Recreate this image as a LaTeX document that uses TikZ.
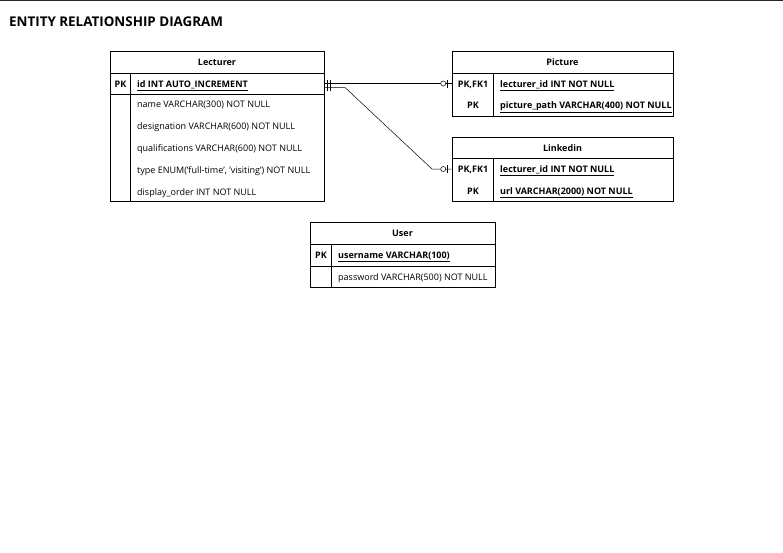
\documentclass[tikz,border=0pt]{standalone}
\usepackage{fontspec}
\setmainfont{Open Sans}
\usetikzlibrary{positioning}

\begin{document}
\begin{tikzpicture}[x=1pt, y=-1pt,
                tablebox/.style={draw, line width=0.6pt, inner sep=0pt},
                tabletitle/.style={tablebox, minimum height=22, text height=8.5pt, text depth=1.5pt, font=\fontsize{9}{10}\selectfont\bfseries},
                keytext/.style={inner sep=0pt, text height=8.5pt, text depth=1.5pt, font=\fontsize{9}{10}\selectfont\bfseries},
                fieldtext/.style={anchor=west, inner sep=0pt, minimum height=21.6, text height=8.5pt, text depth=1.5pt, font=\fontsize{9}{10}\selectfont},
                keyfield/.style={fieldtext, font=\fontsize{9}{10}\selectfont\bfseries},
                link/.style={line width=0.5pt},
            ]
            \useasboundingbox (0,0) rectangle (783,552);
            \draw[line width=2pt, black!85] (0,0) -- (783,0);

            % Title
            \node[anchor=west, inner sep=0pt, font=\fontsize{13.4}{15}\selectfont\bfseries] (diagram_title) at (9,21.5) {ENTITY RELATIONSHIP DIAGRAM};

            % Lecturer
            \node[tabletitle, minimum width=214]                  (lect_head) at (217,62)    {Lecturer};
            \node[tablebox, minimum width=214, minimum height=21] (lect_key)  at (217,83.5)  {};
            \node[tablebox, minimum width=214, minimum height=107] (lect_body) at (217,147.5) {};
            \draw[tablebox] ([xshift=21pt]lect_key.north west) -- ([xshift=21pt]lect_body.south west);
            \node[keytext]  (lect_pk)    at (120.5,84)  {PK};
            \node[keyfield] (lect_id)    at (137,84)    {\underline{id INT AUTO\_INCREMENT}};
            \node[fieldtext] (lect_name) at (137,104.3) {name VARCHAR(300) NOT NULL};
            \node[fieldtext] (lect_desig)  [below=0pt of lect_name.south west, anchor=north west]  {designation VARCHAR(600) NOT NULL};
            \node[fieldtext] (lect_qual)   [below=0pt of lect_desig.south west, anchor=north west] {qualifications VARCHAR(600) NOT NULL};
            \node[fieldtext] (lect_type)   [below=0pt of lect_qual.south west, anchor=north west]  {type ENUM('full-time', 'visiting') NOT NULL};
            \node[fieldtext] (lect_order)  [below=0pt of lect_type.south west, anchor=north west]  {display\_order INT NOT NULL};

            % Picture
            \node[tabletitle, minimum width=221]                  (pic_head) at (562.5,62)   {Picture};
            \node[tablebox, minimum width=221, minimum height=43] (pic_body) at (562.5,94.5) {};
            \draw[tablebox] ([xshift=42pt]pic_body.north west) -- ([xshift=42pt]pic_body.south west);
            \node[keytext]  (pic_pkfk)   at (473,84)   {PK,FK1};
            \node[keytext]  (pic_pk)     at (473,105)  {PK};
            \node[keyfield] (pic_lid)    at (500,84)   {\underline{lecturer\_id INT NOT NULL}};
            \node[keyfield] (pic_path)   at (500,105)  {\underline{picture\_path VARCHAR(400) NOT NULL}};

            % Linkedin
            \node[tabletitle, minimum width=221, minimum height=21] (link_head) at (562.5,147.5) {Linkedin};
            \node[tablebox, minimum width=221, minimum height=43]  (link_body) at (562.5,179.5) {};
            \draw[tablebox] ([xshift=42pt]link_body.north west) -- ([xshift=42pt]link_body.south west);
            \node[keytext]  (link_pkfk)  at (473,169)   {PK,FK1};
            \node[keytext]  (link_pk)    at (473,190.5) {PK};
            \node[keyfield] (link_lid)   at (500,169)   {\underline{lecturer\_id INT NOT NULL}};
            \node[keyfield] (link_url)   at (500,190.5) {\underline{url VARCHAR(2000) NOT NULL}};

            % User
            \node[tabletitle, minimum width=185]                  (user_head) at (402.5,233)   {User};
            \node[tablebox, minimum width=185, minimum height=22] (user_key)  at (402.5,255)   {};
            \node[tablebox, minimum width=185, minimum height=21] (user_body) at (402.5,276.5) {};
            \draw[tablebox] ([xshift=22pt]user_key.north west) -- ([xshift=22pt]user_body.south west);
            \node[keytext]   (user_pk)   at (321,255)   {PK};
            \node[keyfield]  (user_name) at (338,255)   {\underline{username VARCHAR(100)}};
            \node[fieldtext] (user_pass) at (338,276.5) {password VARCHAR(500) NOT NULL};

            %Lines
            \coordinate (pic_in)  at (lect_key.east -| pic_body.west);
            \coordinate (bend_a)  at (345,87.5);
            \coordinate (bend_b)  at (432,169);
            \coordinate (link_in) at (bend_b -| link_body.west);

            \draw[link] (lect_key.east) -- (pic_in);
            \draw[link] ([yshift=-4pt]lect_key.east) -- (bend_a) -- (bend_b) -- (link_in);

            \draw[link] ([xshift=3pt,yshift=3.5pt]lect_key.east) -- ++(0,7);
            \draw[link] ([xshift=5.5pt,yshift=3.5pt]lect_key.east) -- ++(0,7);
            \draw[link] ([xshift=3pt,yshift=-0.5pt]lect_key.east) -- ++(0,7);
            \draw[link] ([xshift=5.5pt,yshift=-0.5pt]lect_key.east) -- ++(0,7);

            \draw[link] ([xshift=-4pt,yshift=4pt]pic_in) -- ++(0,8);
            \draw[link, fill=white] ([xshift=-8.5pt]pic_in) circle (2.5pt);
            \draw[link] ([xshift=-4pt,yshift=4pt]link_in) -- ++(0,8);
            \draw[link, fill=white] ([xshift=-8.5pt]link_in) circle (2.5pt);
\end{tikzpicture}
\end{document}
